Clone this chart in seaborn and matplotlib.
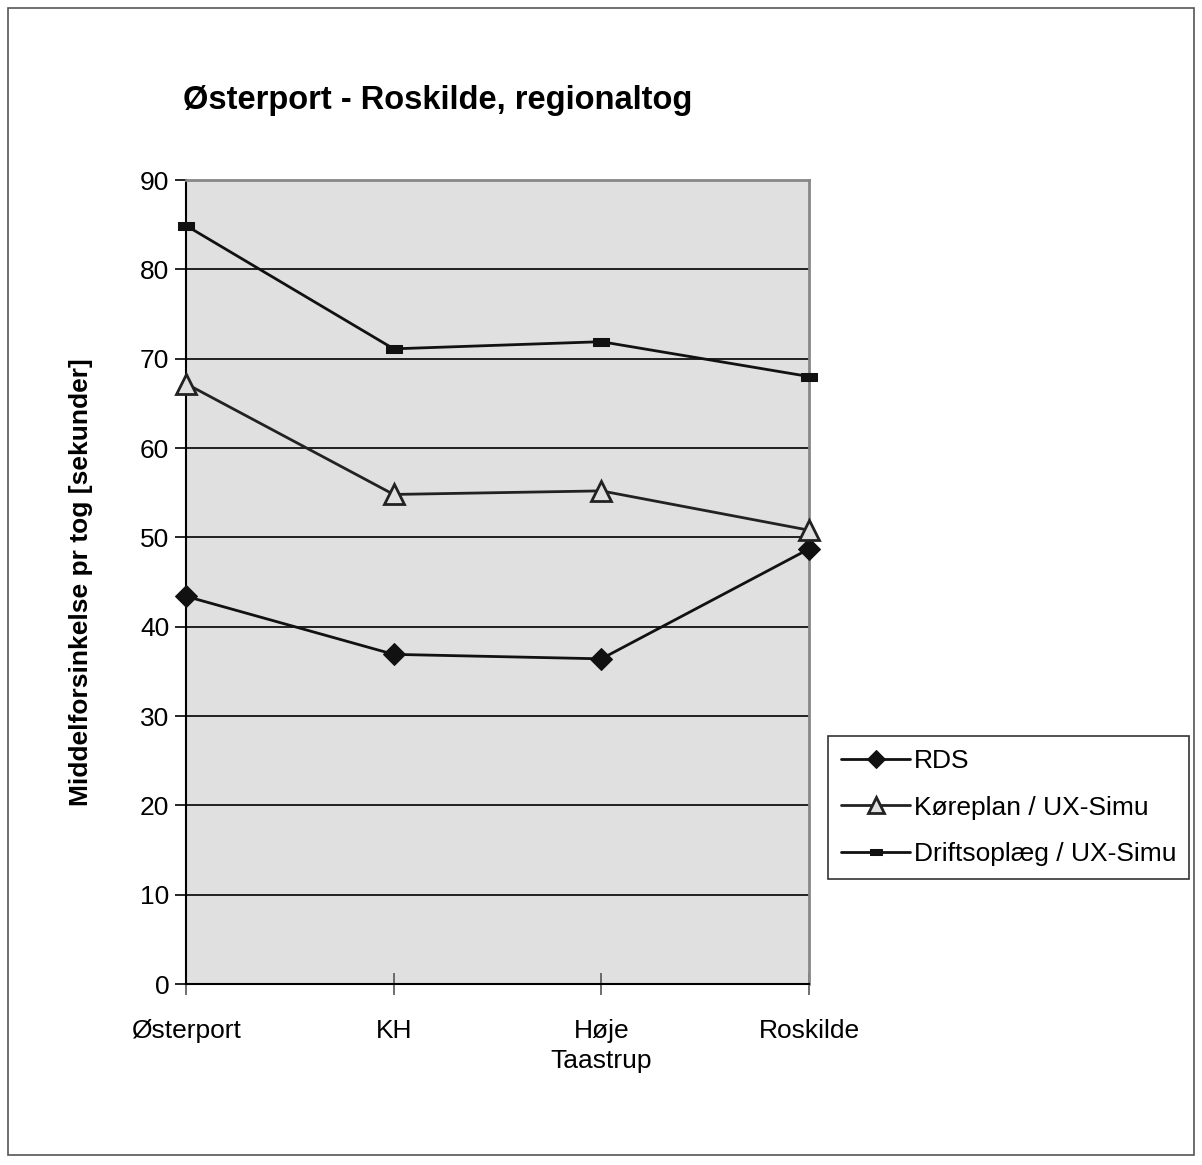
import matplotlib
matplotlib.use("Agg")
import matplotlib.pyplot as plt
from matplotlib.patches import Rectangle
import seaborn as sns
import pandas as pd

# data
stations = ["Østerport", "KH", "Høje\nTaastrup", "Roskilde"]
rds = [43.4, 36.9, 36.4, 48.7]
koreplan = [67.2, 54.8, 55.2, 50.8]
driftsoplaeg = [84.9, 71.1, 71.9, 68.0]
series_names = ["RDS", "Køreplan / UX-Simu", "Driftsoplæg / UX-Simu"]

sns.set_style("white")
plt.rcParams["font.family"] = ["Liberation Sans", "DejaVu Sans"]
plt.rcParams["text.color"] = "black"
plt.rcParams["axes.labelcolor"] = "black"
plt.rcParams["xtick.labelcolor"] = "black"
plt.rcParams["ytick.labelcolor"] = "black"

fig = plt.figure(figsize=(12.02, 11.65), dpi=100)
ax = fig.add_axes([186/1202, 1 - 984/1165, (809-186)/1202, (984-180)/1165])
ax.set_facecolor("#e0e0e0")

pos = list(range(len(stations)))
d = pd.DataFrame({"pos": pos, "RDS": rds, "K": koreplan, "D": driftsoplaeg})

rect_marker = [(-1, -0.5), (1, -0.5), (1, 0.5), (-1, 0.5), (-1, -0.5)]

sns.lineplot(data=d, x="pos", y="RDS", ax=ax, color="#111111", lw=2.0,
             marker="D", markersize=11, markerfacecolor="#111111",
             markeredgecolor="#111111", label=series_names[0], zorder=5, clip_on=False)
sns.lineplot(data=d, x="pos", y="K", ax=ax, color="#222222", lw=2.0,
             marker="^", markersize=14, markerfacecolor="#e0e0e0",
             markeredgecolor="#222222", markeredgewidth=2, label=series_names[1],
             zorder=5, clip_on=False)
sns.lineplot(data=d, x="pos", y="D", ax=ax, color="#111111", lw=2.0,
             marker=rect_marker, markersize=11, markerfacecolor="#111111",
             markeredgecolor="#111111", label=series_names[2], zorder=5, clip_on=False)

ax.set_xlim(0, 3)
ax.set_ylim(0, 90)
ax.set_yticks(range(0, 91, 10))
ax.set_xticks(pos)
ax.set_xticklabels(stations, fontsize=19, linespacing=1.35)
ax.tick_params(axis="y", labelsize=19, direction="out", length=8, width=1.2, color="black", left=True, pad=4)
ax.tick_params(axis="x", direction="inout", length=16, width=1.2, color="#555555", bottom=True, pad=17)
ax.yaxis.grid(True, color="black", lw=1.2)
ax.set_axisbelow(True)
for s in ["top", "right"]:
    ax.spines[s].set_color("#888888")
    ax.spines[s].set_linewidth(2)
for s in ["left", "bottom"]:
    ax.spines[s].set_color("black")
    ax.spines[s].set_linewidth(1.5)

ax.set_xlabel("")
ax.set_ylabel("Middelforsinkelse pr tog [sekunder]", fontsize=19, fontweight="bold", labelpad=34)

fig.text(183/1202, 1 - 100/1165, "Østerport - Roskilde, regionaltog", fontsize=23.5,
         fontweight="bold", va="center", ha="left")

leg = ax.legend(loc="upper left", bbox_to_anchor=(828/1202, 1 - 736/1165),
                bbox_transform=fig.transFigure, fontsize=19, frameon=True,
                fancybox=False, edgecolor="black", handlelength=2.6,
                handletextpad=0.15, borderpad=0.5, labelspacing=0.85,
                borderaxespad=0, markerscale=0.85)
leg.get_frame().set_linewidth(1.2)
leg.get_frame().set_facecolor("white")

fig.patches.append(Rectangle((8/1202, 1 - 1155/1165), (1194-8)/1202, (1155-8)/1165,
                             transform=fig.transFigure, fill=False,
                             edgecolor="#555555", lw=1.2))

fig.savefig("out.png", dpi=100)
